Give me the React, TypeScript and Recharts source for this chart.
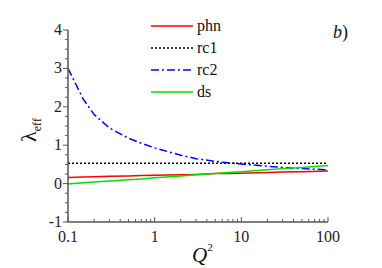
import React from 'react';
import { LineChart, Line, XAxis, YAxis, Legend } from 'recharts';

// Q^2 sample points (log axis)
const q2 = [0.1, 0.15, 0.2, 0.3, 0.5, 0.7, 1, 2, 3, 5, 7, 10, 20, 30, 50, 100];
const phn = [0.16, 0.17, 0.18, 0.19, 0.2, 0.21, 0.22, 0.23, 0.24, 0.26, 0.26, 0.27, 0.29, 0.3, 0.31, 0.33];
const rc1 = [0.53, 0.53, 0.53, 0.53, 0.53, 0.53, 0.53, 0.53, 0.53, 0.53, 0.53, 0.53, 0.53, 0.53, 0.53, 0.53];
const rc2 = [3.0, 2.2, 1.8, 1.45, 1.18, 1.05, 0.93, 0.74, 0.65, 0.58, 0.54, 0.51, 0.45, 0.42, 0.39, 0.36];
const ds = [-0.01, 0.02, 0.04, 0.07, 0.1, 0.12, 0.15, 0.2, 0.23, 0.26, 0.29, 0.31, 0.36, 0.39, 0.42, 0.47];

const xMajor = [0.1, 1, 10, 100];
const xTicks = [0.1, 0.2, 0.3, 0.4, 0.5, 0.6, 0.7, 0.8, 0.9, 1, 2, 3, 4, 5, 6, 7, 8, 9, 10, 20, 30, 40, 50, 60, 70, 80, 90, 100];
const yMajor = [-1, 0, 1, 2, 3, 4];
const yTicks = [-1, -0.75, -0.5, -0.25, 0, 0.25, 0.5, 0.75, 1, 1.25, 1.5, 1.75, 2, 2.25, 2.5, 2.75, 3, 3.25, 3.5, 3.75, 4];

const series = [
  { key: 'phn', color: '#ff0000', dash: undefined },
  { key: 'rc1', color: '#000000', dash: '2 2' },
  { key: 'rc2', color: '#0000ff', dash: '8 3 2 3' },
  { key: 'ds', color: '#00e000', dash: undefined },
];

const data = q2.map((q, i) => ({ q, phn: phn[i], rc1: rc1[i], rc2: rc2[i], ds: ds[i] }));

const FONT = 'Liberation Serif, DejaVu Serif, serif';
const AXIS = '#555';

const XTick = (props: any) => {
  const { x, y, payload } = props;
  const major = xMajor.includes(payload.value);
  return (
    <g>
      <line x1={x} x2={x} y1={y} y2={y - (major ? 5 : 3)} stroke={AXIS} strokeWidth={1} />
      {major && (
        <text x={x} y={y + 20} textAnchor="middle" style={{ fontFamily: FONT }} fontSize={16} fill="#222">
          {payload.value}
        </text>
      )}
    </g>
  );
};

const YTick = (props: any) => {
  const { x, y, payload } = props;
  const major = yMajor.includes(payload.value);
  return (
    <g>
      <line x1={x} x2={x - (major ? 5 : 3)} y1={y} y2={y} stroke={AXIS} strokeWidth={1} />
      {major && (
        <text x={x - 6} y={y + 5} textAnchor="end" style={{ fontFamily: FONT }} fontSize={16} fill="#222">
          {payload.value}
        </text>
      )}
    </g>
  );
};

const LegendBox = () => (
  <div style={{ fontFamily: FONT, fontSize: 16, color: '#111' }}>
    {series.map((s) => (
      <div key={s.key} style={{ display: 'flex', alignItems: 'center', height: 22 }}>
        <svg width={42} height={4}>
          <line x1={0} x2={42} y1={2} y2={2} stroke={s.color} strokeWidth={1.5} strokeDasharray={s.dash} />
        </svg>
        <span style={{ marginLeft: 4 }}>{s.key}</span>
      </div>
    ))}
  </div>
);

export default function App() {
  return (
    <div style={{ position: 'absolute', left: 0, top: 0 }}>
      <LineChart width={382} height={268} data={data} margin={{ top: 30, right: 54, bottom: 0, left: 0 }}>
        <XAxis
          dataKey="q"
          type="number"
          scale="log"
          domain={[0.1, 100]}
          ticks={xTicks}
          interval={0}
          allowDataOverflow
          height={46}
          tickSize={0}
          tickMargin={0}
          tickLine={false}
          tick={XTick}
          axisLine={{ stroke: AXIS, strokeWidth: 1.5 }}
        />
        <YAxis
          type="number"
          domain={[-1, 4]}
          ticks={yTicks}
          interval={0}
          width={68}
          tickSize={0}
          tickMargin={0}
          tickLine={false}
          tick={YTick}
          axisLine={{ stroke: AXIS, strokeWidth: 1.5 }}
        />
        <Legend
          layout="vertical"
          align="center"
          verticalAlign="middle"
          content={LegendBox}
          wrapperStyle={{ left: 151, top: 15, width: 'auto', height: 'auto' }}
        />
        {series.map((s) => (
          <Line
            key={s.key}
            dataKey={s.key}
            type="linear"
            stroke={s.color}
            strokeWidth={1.5}
            strokeDasharray={s.dash}
            dot={false}
            activeDot={false}
            isAnimationActive={false}
          />
        ))}
        <text transform="translate(36,130) rotate(-90)" style={{ fontFamily: FONT }} fontSize={22} fill="#111" textAnchor="middle">
          <tspan>λ</tspan>
          <tspan fontSize={12} dy={5}>eff</tspan>
        </text>
        <text x={192} y={262} style={{ fontFamily: FONT }} fontSize={21} fontStyle="italic" fill="#111">
          Q
          <tspan fontSize={11} dy={-11} fontStyle="normal">2</tspan>
        </text>
        <text x={333} y={38} style={{ fontFamily: FONT }} fontSize={18} fill="#111">
          <tspan fontStyle="italic">b</tspan>)
        </text>
      </LineChart>
    </div>
  );
}
